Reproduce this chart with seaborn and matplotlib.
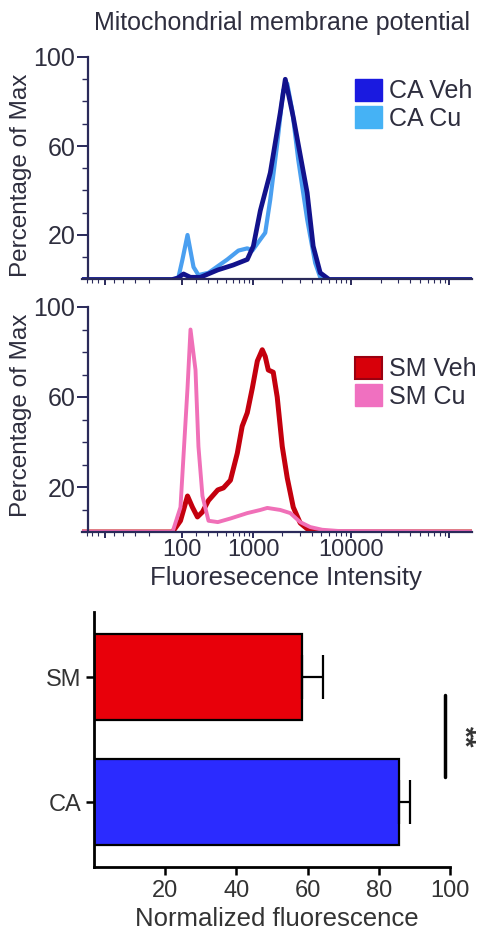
import numpy as np
import pandas as pd
import matplotlib
matplotlib.use("Agg")
import matplotlib.pyplot as plt
from matplotlib.patches import Patch
import seaborn as sns

# histogram traces, fluorescence (a.u.) vs % of max
ca_veh_x = [-900, 40, 74, 113, 160, 237, 404, 608, 863, 1000, 1183, 1500, 1900, 2139, 2582, 3580, 4124, 4862, 6000, 170000]
ca_veh_y = [0, 0, 0.6, 2.5, 1.0, 1.0, 4.3, 6.5, 9.0, 15, 31, 48, 75, 90, 73, 39, 15, 3, 0, 0]

ca_cu_x = [-900, 50, 80, 106, 140, 183, 221, 308, 522, 693, 863, 976, 1183, 1330, 1500, 1768, 2038, 2241, 2520, 2900, 3580, 4323, 4862, 6000, 170000]
ca_cu_y = [0, 0, 1, 9, 20, 5.6, 2, 3, 9, 13, 14, 13, 18, 21, 36, 61, 85, 88, 76, 54, 27, 7.4, 1, 0, 0]

sm_veh_x = [-900, 43, 93, 140, 175, 213, 254, 308, 404, 471, 566, 674, 761, 863, 976, 1101, 1239, 1330, 1431, 1609, 1768, 1992, 2241, 2582, 3040, 3676, 4527, 170000]
sm_veh_y = [0, 0, 5, 16, 11, 6.7, 8.9, 14, 18.7, 19.6, 23, 35, 47, 53, 64, 76, 81, 78, 72, 71, 60, 38, 24, 11, 4, 1, 0, 0]

sm_cu_x = [-900, 43, 93, 140, 161, 198, 221, 254, 308, 404, 566, 863, 1183, 1398, 1900, 2407, 3040, 3845, 5091, 7750, 170000]
sm_cu_y = [0, 0, 11, 64, 90, 72, 38, 16, 5, 4.4, 6, 8.4, 9.8, 10.7, 9.8, 8.4, 4.4, 2.2, 1, 0.4, 0]

# bar chart
groups = ["SM", "CA"]
norm_fluor = [58.5, 85.7]
norm_err = [5.7, 3.1]

W, H = 481, 930
text_col = "#2e2e3e"
axis_col = "#2a2a5a"

sns.set_style("white")
plt.rcParams["font.family"] = ["Liberation Sans", "DejaVu Sans"]

fig = plt.figure(figsize=(W / 100, H / 100), dpi=100)


def px_rect(left, top, right, bottom):
    return [left / W, 1 - bottom / H, (right - left) / W, (bottom - top) / H]


# biexponential-like display scale
C = 260.0
fwd = lambda v: np.arcsinh(np.asarray(v) / C)
inv = lambda u: C * np.sinh(np.asarray(u))


def style_hist(ax, show_labels):
    ax.set_xscale("function", functions=(fwd, inv))
    ax.set_xlim(-900, 170000)
    ax.set_ylim(0, 100)
    for s in ["top", "right"]:
        ax.spines[s].set_visible(False)
    ax.spines["left"].set_position(("axes", 6 / 391))
    for s in ["left", "bottom"]:
        ax.spines[s].set_color(axis_col)
        ax.spines[s].set_linewidth(1.6)
    ax.set_yticks([20, 60, 100])
    ax.set_yticks(np.arange(10, 100, 10), minor=True)
    ax.set_xticks([-500, 100, 1000, 10000, 100000])
    ax.set_xticks([-800, -700, -600, -400, -300, -200, -100,
                   200, 300, 400, 500, 600, 700, 800, 900,
                   2000, 3000, 4000, 5000, 6000, 7000, 8000, 9000,
                   20000, 30000, 40000, 50000, 60000, 70000, 80000, 90000], minor=True)
    if show_labels:
        ax.set_xticklabels(["", "100", "1000", "10000", ""])
    else:
        ax.set_xticklabels([])
    ax.set_xticklabels([], minor=True)
    ax.tick_params(axis="y", which="major", direction="out", length=8, width=1.4,
                   color=axis_col, labelsize=18, labelcolor=text_col, pad=1, left=True)
    ax.tick_params(axis="y", which="minor", direction="out", length=4, width=1.0,
                   color=axis_col, left=True)
    ax.tick_params(axis="x", which="major", direction="out", length=4, width=1.4,
                   color=axis_col, labelsize=17, labelcolor=text_col, pad=1, bottom=True)
    ax.tick_params(axis="x", which="minor", direction="out", length=3, width=0.8,
                   color=axis_col, bottom=True)
    ax.set_ylabel("Percentage of Max", fontsize=17.5, color=text_col)
    ax.set_xlabel("")


# top histogram: CA
ax1 = fig.add_axes(px_rect(82, 57, 472, 279.5))
sns.lineplot(x=ca_cu_x, y=ca_cu_y, ax=ax1, color="#4a9ff0", lw=3.0, sort=False, estimator=None)
sns.lineplot(x=ca_veh_x, y=ca_veh_y, ax=ax1, color="#12128c", lw=3.4, sort=False, estimator=None)
style_hist(ax1, False)
ax1.yaxis.set_label_coords(-0.128, 0.47)
ax1.legend(handles=[Patch(facecolor="#1a1ae0", edgecolor="#1a1ae0", label="CA Veh"),
                    Patch(facecolor="#45b2f5", edgecolor="#45b2f5", label="CA Cu")],
           loc="upper left", bbox_to_anchor=(355 / W, 1 - 79 / H), bbox_transform=fig.transFigure,
           frameon=False, fontsize=18, handlelength=1.1, handleheight=0.95, handletextpad=0.25,
           labelspacing=0.12, borderpad=0, borderaxespad=0, labelcolor=text_col)

# bottom histogram: SM
ax2 = fig.add_axes(px_rect(82, 307, 472, 532))
sns.lineplot(x=sm_veh_x, y=sm_veh_y, ax=ax2, color="#c4000e", lw=3.6, sort=False, estimator=None)
sns.lineplot(x=sm_cu_x, y=sm_cu_y, ax=ax2, color="#f070b8", lw=2.8, sort=False, estimator=None)
style_hist(ax2, True)
ax2.yaxis.set_label_coords(-0.128, 0.52)
ax2.set_xlabel("Fluoresecence Intensity", fontsize=18.5, color=text_col)
ax2.xaxis.set_label_coords(0.524, -0.15)
ax2.legend(handles=[Patch(facecolor="#d8000a", edgecolor="#9a0010", lw=1.5, label="SM Veh"),
                    Patch(facecolor="#f070c0", edgecolor="#f070c0", label="SM Cu")],
           loc="upper left", bbox_to_anchor=(355 / W, 1 - 357 / H), bbox_transform=fig.transFigure,
           frameon=False, fontsize=18, handlelength=1.1, handleheight=0.95, handletextpad=0.25,
           labelspacing=0.12, borderpad=0, borderaxespad=0, labelcolor=text_col)

fig.text(282 / W, 1 - 23 / H, "Mitochondrial membrane potential", ha="center", va="center",
         fontsize=18, color=text_col)

# bar chart
ax3 = fig.add_axes(px_rect(94, 612, 450, 867))
bars = pd.DataFrame({"group": groups, "value": norm_fluor})
sns.barplot(data=bars, x="value", y="group", hue="group", palette=["#e8000a", "#2b2bff"],
            saturation=1, orient="h", width=0.69, edgecolor="black", linewidth=1.6,
            errorbar=None, legend=False, ax=ax3)
ax3.errorbar(norm_fluor, [0, 1], xerr=[[0, 0], norm_err], fmt="none", ecolor="black",
             elinewidth=1.6, capsize=16, capthick=1.6, zorder=1)
ax3.set_xlim(0, 100)
ax3.set_ylim(1.52, -0.52)
for s in ["top", "right"]:
    ax3.spines[s].set_visible(False)
for s in ["left", "bottom"]:
    ax3.spines[s].set_color("black")
    ax3.spines[s].set_linewidth(2)
ax3.set_xticks([20, 40, 60, 80, 100])
ax3.tick_params(axis="both", direction="out", length=6, width=1.8, color="black",
                labelsize=17, labelcolor="#333333", left=True, bottom=True, pad=3)
ax3.set_ylabel("")
ax3.set_xlabel("Normalized fluorescence", fontsize=18.5, color="#333333")
ax3.xaxis.set_label_coords(0.514, -0.157)

# significance bracket
ax3.plot([98.6, 98.6], [0.144, 0.8], color="black", lw=2.5, clip_on=False)
ax3.text(103.6, 0.48, "**", rotation=270, ha="center", va="center", fontsize=20,
         fontweight="bold", color="#333333", clip_on=False)

fig.savefig("out.png", dpi=100)
